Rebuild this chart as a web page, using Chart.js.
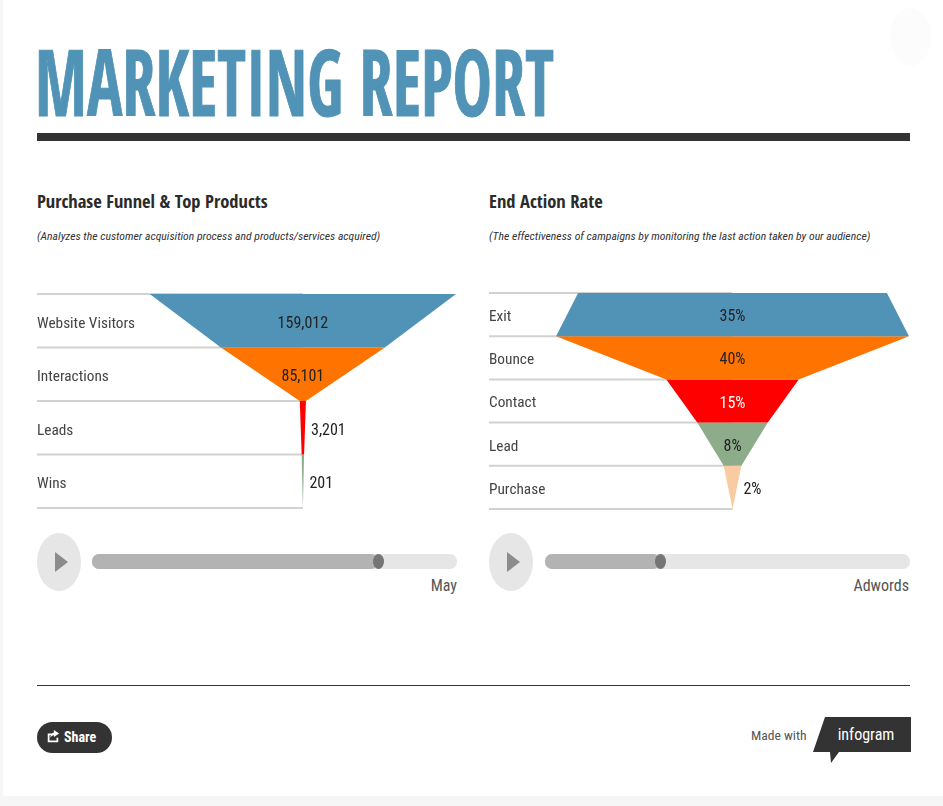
<!DOCTYPE html>
<html>
<head>
<meta charset="utf-8">
<script src="https://cdn.jsdelivr.net/npm/chart.js@4"></script>
<style>
  html, body { margin: 0; padding: 0; }
  body { width: 943px; height: 806px; background: #f6f6f6; overflow: hidden; position: relative; }
  .sheet { position: absolute; left: 3px; top: 0; width: 940px; height: 796px; background: #fff; }
  .badge { position: absolute; left: 890px; top: 8px; width: 41px; height: 58px; border-radius: 50%; background: #fcfcfc; }
  .abs { position: absolute; white-space: nowrap; }
  body, .abs { font-family: "Roboto Condensed", sans-serif; color: #333; }
  #title { left: 35px; top: 21px; font-family: "Open Sans Condensed", sans-serif; font-size: 92px; line-height: 120px; font-weight: 700; color: #5093b6; -webkit-text-stroke: 1px #5093b6; transform: scaleX(0.72); transform-origin: 0 0; }
  #rule { left: 37px; top: 133px; width: 873px; height: 8px; background: #333; }
  .heading { font-family: "Open Sans Condensed", sans-serif; font-size: 18.5px; font-weight: 700; color: #2b2b2b; line-height: 24px; top: 189px; }
  .note { font-size: 11.7px; font-style: italic; color: #333; line-height: 16px; top: 228px; }
  canvas.funnel { position: absolute; }
  .play { position: absolute; top: 533px; width: 44px; height: 58px; border-radius: 50%; background: #e6e6e6; }
  .play::after { content: ""; position: absolute; left: 18px; top: 19px; border-left: 13px solid #8c8c8c; border-top: 10px solid transparent; border-bottom: 10px solid transparent; }
  .track { position: absolute; top: 554px; width: 365px; height: 15px; border-radius: 7px; background: #e6e6e6; }
  .fill { position: absolute; left: 0; top: 0; height: 15px; border-radius: 7px; background: #b3b3b3; }
  .thumb { position: absolute; top: 0; width: 11px; height: 15px; border-radius: 50%; background: #757575; }
  .step { font-size: 16px; color: #555; line-height: 20px; top: 576px; text-align: right; }
  #footline { left: 37px; top: 685px; width: 873px; height: 1px; background: #333; }
  #share { left: 37px; top: 722px; width: 75px; height: 31px; border-radius: 16px; background: #333; color: #fff; font-size: 14px; font-weight: 700; line-height: 31px; }
  #share span { position: absolute; left: 27px; }
  #share svg { position: absolute; left: 9px; top: 6px; }
  #made { left: 751px; top: 726px; font-size: 13.6px; color: #555; line-height: 18px; }
  #logo { position: absolute; left: 812px; top: 716px; }
</style>
</head>
<body>
<div class="sheet"></div>
<div class="badge"></div>
<div class="abs" id="title">MARKETING REPORT</div>
<div class="abs" id="rule"></div>

<div class="abs heading" style="left:37px">Purchase Funnel &amp; Top Products</div>
<div class="abs note" style="left:37px">(Analyzes the customer acquisition process and products/services acquired)</div>
<div class="abs heading" style="left:489px">End Action Rate</div>
<div class="abs note" style="left:489px">(The effectiveness of campaigns by monitoring the last action taken by our audience)</div>

<canvas class="funnel" id="purchaseFunnel" width="420" height="224" style="left:37px;top:289px"></canvas>
<canvas class="funnel" id="actionFunnel" width="420" height="226" style="left:489px;top:288px"></canvas>

<div class="play" style="left:37px"></div>
<div class="track" style="left:92px"><div class="fill" style="width:286px"></div><div class="thumb" style="left:281px"></div></div>
<div class="abs step" style="right:486px">May</div>
<div class="play" style="left:489px"></div>
<div class="track" style="left:545px"><div class="fill" style="width:115px"></div><div class="thumb" style="left:110px"></div></div>
<div class="abs step" style="right:34px">Adwords</div>

<div class="abs" id="footline"></div>
<div class="abs" id="share">
  <svg width="14" height="16" viewBox="0 0 16 16"><path d="M2 5h5v2H4v6h8v-3h2v5H2z" fill="#fff"/><path d="M9 1l6 4-6 4V7C7 7 6 8 5 10c0-3 1-5 4-6z" fill="#fff"/></svg>
  <span>Share</span>
</div>
<div class="abs" id="made">Made with</div>
<svg id="logo" width="100" height="50" viewBox="0 0 100 50">
  <path d="M13 1H99V36H27L19 47L18 36H1z" fill="#333"/>
  <text x="54" y="24" text-anchor="middle" fill="#fff" font-size="16" font-family="Roboto Condensed, sans-serif">infogram</text>
</svg>

<script>
// Purchase funnel
const purchaseStages = ['Website Visitors', 'Interactions', 'Leads', 'Wins'];
const purchaseValues = [159012, 85101, 3201, 201];
const purchaseLabels = ['159,012', '85,101', '3,201', '201'];
const purchaseColors = ['#5093b6', '#ff7300', '#ff0000', '#8dad8a'];

// End action rate funnel
const actionStages = ['Exit', 'Bounce', 'Contact', 'Lead', 'Purchase'];
const actionValues = [35, 40, 15, 8, 2];
const actionLabels = ['35%', '40%', '15%', '8%', '2%'];
const actionColors = ['#5093b6', '#ff7300', '#ff0000', '#8dad8a', '#f9cba3'];
const actionTextColors = ['#222', '#222', '#fff', '#222', '#222'];

// writes the value inside a band, or beside it when the band is too narrow
const bandLabels = {
    id: 'bandLabels',
    afterDatasetsDraw(chart, args, opts) {
        const { ctx, scales: { x, y } } = chart;
        ctx.save();
        ctx.font = '16px "Roboto Condensed", sans-serif';
        ctx.textBaseline = 'middle';
        opts.values.forEach((value, i) => {
            const next = i + 1 < opts.values.length ? opts.values[i + 1] : 0;
            const mid = (value + next) / 2;
            const cy = y.getPixelForValue(i + 0.5) + opts.offset;
            if (x.getPixelForValue(mid) - x.getPixelForValue(0) > 20) {
                ctx.textAlign = 'center';
                ctx.fillStyle = opts.colors[i] || '#222';
                ctx.fillText(opts.labels[i], x.getPixelForValue(0), cy);
            } else {
                ctx.textAlign = 'left';
                ctx.fillStyle = '#222';
                ctx.fillText(opts.labels[i], x.getPixelForValue(mid) + 6.5, cy);
            }
        });
        ctx.restore();
    }
};

// minHalf keeps very small bands visible as a thin sliver
function createFunnel(canvasId, stages, values, labels, colors, textColors, xMin, xMax, minHalf, labelShift) {
    const bands = values.map((value, i) => {
        const top = Math.max(value, minHalf);
        const bottom = i + 1 < values.length ? Math.max(values[i + 1], minHalf) : 0;
        return {
            data: [
                { x: -top, y: i },
                { x: top, y: i },
                { x: bottom, y: i + 1 },
                { x: -bottom, y: i + 1 }
            ],
            showLine: true,
            fill: 'shape',
            backgroundColor: colors[i],
            borderWidth: 0,
            pointRadius: 0,
            order: 1
        };
    });
    // row separators run from the label side up to the funnel's centre
    const rows = [];
    for (let i = 0; i <= stages.length; i++) {
        rows.push({
            data: [{ x: xMin, y: i }, { x: 0, y: i }],
            showLine: true,
            borderColor: '#d2d2d2',
            borderWidth: 2,
            pointRadius: 0,
            fill: false,
            clip: false,
            order: 2
        });
    }
    new Chart(document.getElementById(canvasId), {
        type: 'scatter',
        data: { datasets: rows.concat(bands) },
        options: {
            responsive: false,
            animation: false,
            layout: { padding: { top: 5, bottom: 5 } },
            scales: {
                x: { type: 'linear', display: false, min: xMin, max: xMax },
                y: {
                    type: 'linear',
                    reverse: true,
                    min: 0,
                    max: stages.length,
                    grid: { display: false, drawTicks: false },
                    border: { display: false },
                    afterBuildTicks: scale => {
                        scale.ticks = stages.map((s, i) => ({ value: i + 0.5 }));
                    },
                    afterFit: scale => {
                        scale.paddingTop = 0;
                        scale.paddingBottom = 0;
                    },
                    ticks: {
                        mirror: true,
                        padding: 0,
                        labelOffset: labelShift,
                        color: '#444',
                        font: { family: '"Roboto Condensed", sans-serif', size: 15.3 },
                        callback: value => stages[Math.floor(value)]
                    }
                }
            },
            plugins: {
                legend: { display: false },
                tooltip: { enabled: false },
                bandLabels: { values, labels, colors: textColors, offset: labelShift }
            }
        },
        plugins: [bandLabels]
    });
}

createFunnel('purchaseFunnel', purchaseStages, purchaseValues, purchaseLabels, purchaseColors, [], -276000, 160000, 1250, 3);
createFunnel('actionFunnel', actionStages, actionValues, actionLabels, actionColors, actionTextColors, -55.2, 40, 0, 2.5);
</script>
</body>
</html>
